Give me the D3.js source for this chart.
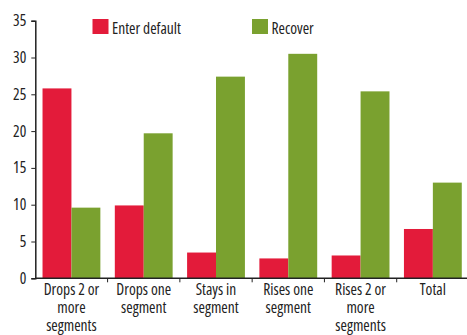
<!DOCTYPE html>
<html><head><meta charset="utf-8">
<script src="https://cdn.jsdelivr.net/npm/d3@7"></script>
<style>
body{margin:0;background:#fff;}
text{font-family:"Open Sans",sans-serif;font-stretch:75%;fill:#222;}
</style></head>
<body><svg id="c" width="467" height="335"></svg>
<script>
const categories = [["Drops 2 or","more","segments"],["Drops one","segment"],["Stays in","segment"],["Rises one","segment"],["Rises 2 or","more","segments"],["Total"]];
const seriesNames = ["Enter default","Recover"];
const enterDefault = [25.8, 9.9, 3.5, 2.7, 3.1, 6.7];
const recover = [9.6, 19.7, 27.4, 30.5, 25.4, 13.0];
const yTicks = [0,5,10,15,20,25,30,35];
const colors = ["#E31B3A","#7AA12F"];

(function(){
const svg = d3.select("#c");
const mLeft = 35.3, mRight = 469, mTop = 20.7, mBottom = 278.3;
const idx = categories.map((d,i)=>i);
const x0 = d3.scaleBand().domain(idx).range([mLeft,mRight]).paddingInner(0.2).paddingOuter(0.1);
const x1 = d3.scaleBand().domain([0,1]).range([0,x0.bandwidth()]);
const y = d3.scaleLinear().domain([0,35]).range([mBottom,mTop]);

const series = [enterDefault, recover];
series.forEach((vals,s)=>{
  svg.append("g").selectAll("rect").data(vals).join("rect")
    .attr("x",(d,i)=>x0(i)+x1(s))
    .attr("y",d=>y(d))
    .attr("width",x1.bandwidth())
    .attr("height",d=>y(0)-y(d))
    .attr("fill",colors[s]);
});

// y axis
const ya = svg.append("g").attr("transform",`translate(${mLeft},0)`)
  .call(d3.axisLeft(y).tickValues(yTicks).tickSize(4).tickPadding(5));
ya.select(".domain").attr("stroke","#222").attr("stroke-width",1.5);
ya.selectAll(".tick line").attr("stroke","#222");
ya.selectAll(".tick text").style("font-size","15.5px").style("font-family",null).attr("fill","#222");

// x axis
const xa = svg.append("g").attr("transform",`translate(0,${mBottom})`);
xa.append("line").attr("x1",mLeft).attr("x2",mRight).attr("stroke","#222").attr("stroke-width",1.5);
const step = x0.step();
d3.range(1,categories.length).forEach(i=>{
  const bx = x0(i) - x0.paddingInner()*step/2;
  xa.append("line").attr("x1",bx).attr("x2",bx).attr("y1",0).attr("y2",4).attr("stroke","#222");
});
categories.forEach((lines,i)=>{
  const cx = x0(i)+x0.bandwidth()/2;
  const t = xa.append("text").attr("text-anchor","middle").attr("x",cx).style("font-size","15.5px");
  lines.forEach((l,j)=>t.append("tspan").attr("x",cx).attr("y",17+j*18).text(l));
});

// legend
const legX = [92.5, 252];
seriesNames.forEach((n,s)=>{
  svg.append("rect").attr("x",legX[s]).attr("y",19).attr("width",16).attr("height",15).attr("fill",colors[s]);
  svg.append("text").attr("x",legX[s]+19.5).attr("y",33.5).style("font-size","15.5px").text(n);
});
})();
</script></body></html>
